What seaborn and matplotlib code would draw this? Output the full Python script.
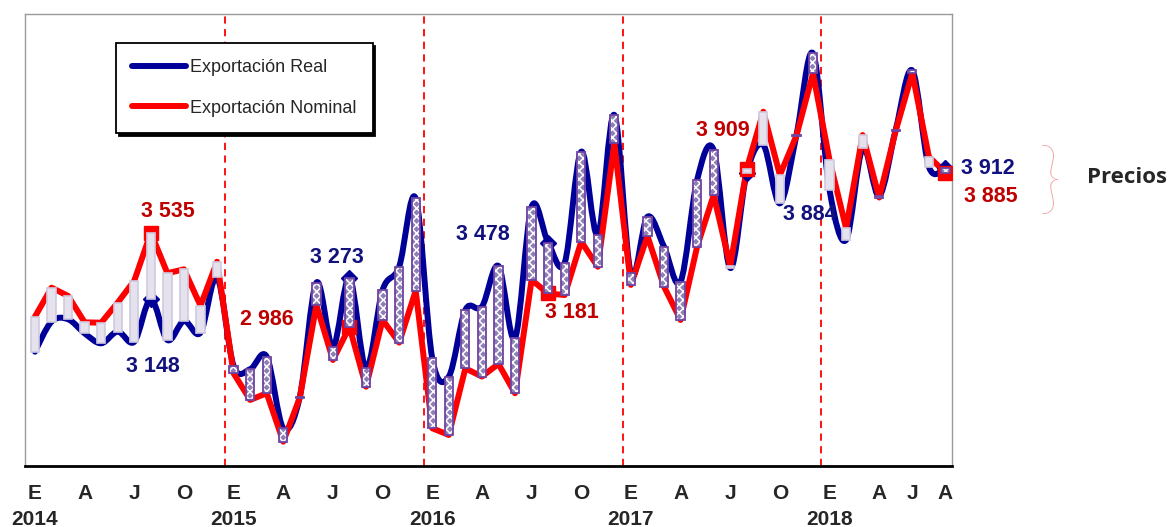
import numpy as np
import matplotlib
matplotlib.use("Agg")
import matplotlib.pyplot as plt
import seaborn as sns
from matplotlib.path import Path
from matplotlib.patches import PathPatch
from matplotlib.lines import Line2D
from matplotlib import font_manager

sns.set_style("white")


def pick_font(names):
    # first family of the list that is really installed
    for name in names:
        try:
            font_manager.findfont(name, fallback_to_default=False)
            return name
        except ValueError:
            continue
    return "DejaVu Sans"


NARROW = pick_font(["Liberation Sans Narrow", "Liberation Sans", "DejaVu Sans"])
ARIAL = pick_font(["Liberation Sans", "DejaVu Sans"])
plt.rcParams["font.family"] = [ARIAL, "DejaVu Sans"]
plt.rcParams["hatch.linewidth"] = 1.1

# monthly exports, Jan 2014 - Aug 2018
real = [2842, 3017, 3031, 2949, 2891, 2959, 2900, 3148, 2910, 3021, 2953, 3275,
        2759, 2740, 2813, 2396, 2580, 3244, 2871, 3273, 2745, 3201, 3337, 3735,
        2804, 2697, 3085, 3104, 3341, 2920, 3686, 3478, 3360, 4007, 3522, 4221,
        3299, 3628, 3454, 3250, 3842, 4017, 3330, 3884, 4046, 3706, 4104, 4580,
        3784, 3493, 4026, 3750, 4136, 4480, 3920, 3912]
nominal = [3046, 3215, 3167, 3013, 3011, 3128, 3256, 3535, 3299, 3322, 3110, 3366,
           2716, 2561, 2600, 2318, 2575, 3114, 2794, 2986, 2638, 3027, 2895, 3197,
           2396, 2357, 2745, 2697, 2771, 2600, 3260, 3181, 3172, 3483, 3337, 4056,
           3231, 3516, 3221, 3027, 3454, 3755, 3340, 3909, 4240, 3871, 4100, 4463,
           3959, 3561, 4104, 3740, 4130, 4465, 3978, 3885]

tick_months = [0, 3, 6, 9, 12, 15, 18, 21, 24, 27, 30, 33, 36, 39, 42, 45, 48, 51, 53, 55]
tick_letters = ["E", "A", "J", "O", "E", "A", "J", "O", "E", "A", "J", "O",
                "E", "A", "J", "O", "E", "A", "J", "A"]
year_starts = [0, 12, 24, 36, 48]
years = ["2014", "2015", "2016", "2017", "2018"]
highlight = [7, 19, 31, 43, 55]  # August of each year

BLUE = "#000099"
RED = "#ff0000"
LBL_BLUE = "#12127e"
LBL_RED = "#c00000"

x = np.arange(len(real))
real_a = np.array(real, dtype=float)
nom_a = np.array(nominal, dtype=float)


def smooth_path(xs, ys):
    # excel-like smoothed line as cubic bezier segments
    pts = np.column_stack([xs, ys]).astype(float)
    ext = np.vstack([pts[0], pts, pts[-1]])
    verts = [pts[0]]
    codes = [Path.MOVETO]
    for i in range(len(pts) - 1):
        p0, p1, p2, p3 = ext[i], ext[i + 1], ext[i + 2], ext[i + 3]
        verts += [p1 + (p2 - p0) / 6, p2 - (p3 - p1) / 6, p2]
        codes += [Path.CURVE4] * 3
    return Path(verts, codes)


fig = plt.figure(figsize=(11.7, 5.27), dpi=100)
ax = fig.add_axes([0.0214, 0.1157, 0.7923, 0.8577])

# real exports: smoothed blue line
ax.add_patch(PathPatch(smooth_path(x, real_a), fill=False, edgecolor=BLUE,
                       lw=4.3, capstyle="round", joinstyle="round", zorder=2))
# nominal exports: red line
sns.lineplot(x=x, y=nom_a, color=RED, lw=4.3, ax=ax, legend=False, zorder=3)
ax.lines[-1].set_solid_capstyle("round")
ax.lines[-1].set_solid_joinstyle("round")

# highlighted August values
ax.plot(x[highlight], real_a[highlight], ls="none", marker="D", ms=8.5,
        color=BLUE, zorder=4)
ax.plot(x[highlight], nom_a[highlight], ls="none", marker="s", ms=10,
        color=RED, zorder=4)

# gap bars between real and nominal
low = np.minimum(real_a, nom_a)
gap = np.abs(real_a - nom_a)
up = real_a >= nom_a
# checkered purple bars: purple fill with white hatch, purple outline on top
ax.bar(x[up], gap[up], bottom=low[up], width=0.5, facecolor="#8c80b4",
       edgecolor="white", hatch="xxxx", lw=0, zorder=5)
ax.bar(x[up], gap[up], bottom=low[up], width=0.5, fill=False,
       edgecolor="#6f43a3", lw=1.3, zorder=5.1)
ax.bar(x[~up], gap[~up], bottom=low[~up], width=0.5, facecolor="#e5e2ee",
       edgecolor="#cfcadf", lw=1.2, zorder=5)

# year separators
for ys in year_starts[1:]:
    ax.axvline(ys - 0.5, color=RED, ls=(0, (4, 3)), lw=1.3, zorder=1)

ax.set_xlim(-0.6, 55.4)
ax.set_ylim(2176, 4809)
ax.set_yticks([])
labels = []
for pos, letter in zip(tick_months, tick_letters):
    if pos in year_starts:
        letter = letter + "\n" + years[year_starts.index(pos)]
    labels.append(letter)
ax.set_xticks(tick_months)
ax.set_xticklabels(labels, fontsize=15, fontweight="bold", family=NARROW,
                   linespacing=1.45)
ax.tick_params(axis="x", length=0, pad=13)
ax.set_xlabel("")
ax.set_ylabel("")

for side in ["left", "top", "right"]:
    ax.spines[side].set_color("#9a9a9a")
    ax.spines[side].set_linewidth(1.0)
ax.spines["bottom"].set_color("black")
ax.spines["bottom"].set_linewidth(2.0)

# value labels (offsets in pixels from the point)
label_offsets = {
    (7, "n"): (17, 21), (7, "r"): (2, -67),
    (19, "n"): (-83, 7), (19, "r"): (-13, 20),
    (31, "r"): (-65, 8), (31, "n"): (24, -19),
    (43, "n"): (-24, 38), (43, "r"): (63, -42),
    (55, "r"): (42, 0), (55, "n"): (45, -24),
}
for (i, kind), (dx, dy) in label_offsets.items():
    val = real[i] if kind == "r" else nominal[i]
    col = LBL_BLUE if kind == "r" else LBL_RED
    ax.annotate(f"{val:,}".replace(",", " "), (x[i], val), xytext=(dx, dy),
                textcoords="offset pixels", ha="center", va="center",
                fontsize=15.5, fontweight="bold", color=col, zorder=6)

handles = [Line2D([0], [0], color=BLUE, lw=4.3, solid_capstyle="round"),
           Line2D([0], [0], color=RED, lw=4.3, solid_capstyle="round")]
leg = ax.legend(handles, ["Exportación Real", "Exportación Nominal"],
                loc="upper left", bbox_to_anchor=(0.098, 0.936),
                frameon=True, fancybox=False, edgecolor="black", framealpha=1,
                shadow={"color": "black", "alpha": 1},
                prop={"family": NARROW, "size": 13},
                handlelength=3.0, handletextpad=0.2, labelspacing=1.3,
                borderpad=0.9, borderaxespad=0)
leg.get_frame().set_linewidth(1.3)
leg.set_zorder(10)

fig.text(1050 / 1170, 1 - 183 / 527, "}", fontsize=56, color="#f29a9a",
         ha="center", va="center", family=pick_font(["Lato", "DejaVu Sans"]),
         fontweight="light")
fig.text(1127 / 1170, 1 - 177 / 527, "Precios", fontsize=16, fontweight="bold",
         ha="center", va="center", family=pick_font(["Open Sans", "DejaVu Sans"]))

fig.savefig("out.png", dpi=100)
